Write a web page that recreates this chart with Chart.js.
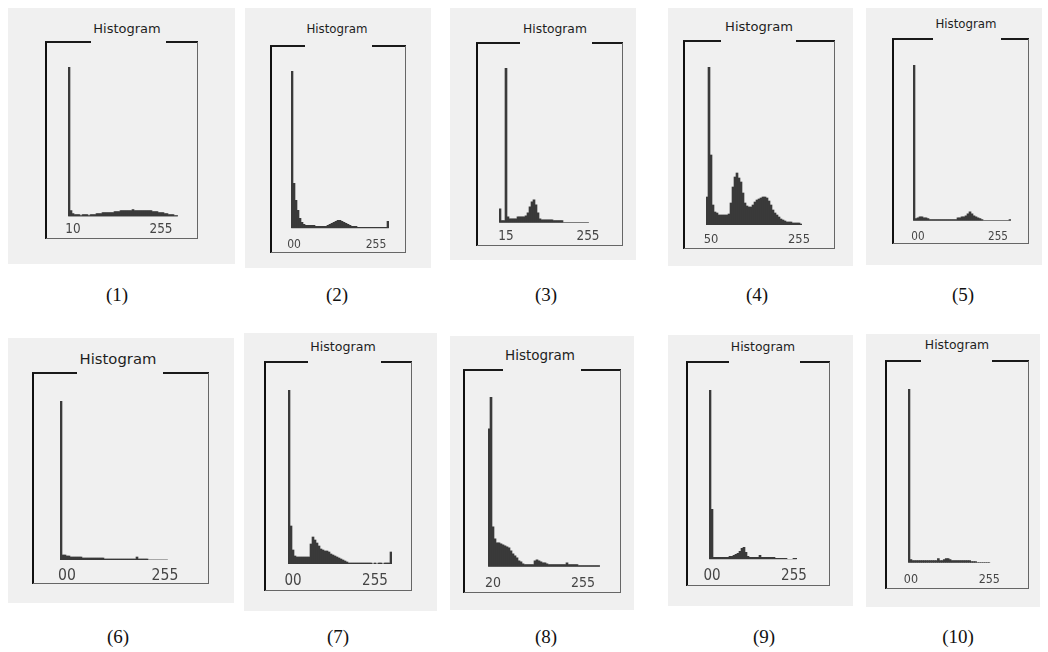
<!DOCTYPE html>
<html><head><meta charset="utf-8">
<script src="https://cdn.jsdelivr.net/npm/chart.js@4.4.1/dist/chart.umd.min.js"></script>
<style>
html,body{margin:0;padding:0;background:#fff;}
body{width:1048px;height:652px;position:relative;overflow:hidden;}
.bg{position:absolute;background:#f0f0f0;}
.ln{position:absolute;}
.ttl{position:absolute;text-align:center;font-family:"DejaVu Sans",sans-serif;color:#1e1e1e;white-space:nowrap;width:200px;}
.cap{position:absolute;text-align:center;font-family:"Liberation Serif","Times New Roman",serif;font-size:19px;color:#111;width:60px;line-height:22px;}
canvas{position:absolute;}
</style></head><body>
<script>
// ---- data: histogram bin counts (relative), one bin = one drawn column ----
const hist1 = [150,6,3,2,2,2,1,2,2,2,1,2,2,2,3,3,3,4,4,4,4,4,4,5,5,5,6,6,6,6,6,6,7,6,6,6,6,6,6,6,6,6,5,5,5,4,4,4,3,3,2,2,2,1,1];
const hist2 = [157,45,28,18,10,6,4,3,3,3,3,3,2,2,2,2,2,2,3,4,5,6,7,8,8,7,6,5,4,3,2,2,2,1,1,1,1,1,1,1,1,1,1,1,1,1,1,1,7];
const hist3 = [14,2,2,155,6,4,4,4,4,6,6,6,6,7,10,16,21,23,18,10,4,3,3,3,3,3,3,2,2,2,2,2,0,0,0,0,0,0,0,0,0,0,0,0,0];
const hist4 = [28,158,70,20,13,12,10,10,10,10,10,11,22,38,48,52,47,43,32,22,19,18,18,20,23,25,26,27,28,28,27,24,20,15,12,10,8,6,5,4,3,3,3,2,2,2,2,1];
const hist5 = [156,2,3,4,4,3,3,2,1,1,1,1,1,1,1,1,1,1,1,1,1,1,3,3,4,4,5,7,9,7,5,4,3,2,1,0,0,0,0,0,0,0,0,0,0,0,0,0,1];
const hist6 = [159,5,5,4,4,3,3,3,3,3,3,2,2,2,2,2,2,2,2,2,2,2,1,1,1,1,1,1,1,1,1,1,1,1,1,1,1,1,3,1,1,1,1,1,0,0,0,0,0,0,0,0,0,0];
const hist7 = [174,38,14,8,7,7,7,7,7,7,7,20,27,24,21,18,15,14,13,13,12,10,9,8,7,6,5,4,3,2,1,1,1,1,1,1,1,1,1,1,1,1,0,1,0,1,1,0,1,1,1,12];
const hist8 = [138,170,40,28,24,24,23,22,21,20,19,16,13,11,9,6,5,3,2,2,2,2,2,6,7,6,5,4,4,3,2,2,2,2,2,2,2,2,2,4,2,2,2,2,2,1,1,1,1,1,1,1,1,1,1,1];
const hist9 = [169,50,2,2,2,2,2,2,2,2,3,3,4,5,6,8,11,12,7,3,2,2,2,2,2,4,2,2,2,2,2,2,2,1,1,1,1,1,1,0,0,0,1,1];
const hist10 = [173,3,2,2,2,2,2,2,2,2,2,2,2,2,2,4,2,2,3,4,4,3,2,2,2,2,2,2,2,2,2,2,1,1,1,0,0,0,0,0,0,0];

// ---- tick labels: text and the bin under which it is printed ----
const tickText1 = ['10','255'];  const tickBins1 = [2,46];
const tickText2 = ['00','255'];  const tickBins2 = [1,42];
const tickText3 = ['15','255'];  const tickBins3 = [3,44];
const tickText4 = ['50','255'];  const tickBins4 = [2,46];
const tickText5 = ['00','255'];  const tickBins5 = [2,42];
const tickText6 = ['00','255'];  const tickBins6 = [3,52];
const tickText7 = ['00','255'];  const tickBins7 = [2,43];
const tickText8 = ['20','255'];  const tickBins8 = [2,47];
const tickText9 = ['00','255'];  const tickBins9 = [1,42];
const tickText10 = ['00','255']; const tickBins10 = [1,41];

const titleText = 'Histogram';
const captions = ['(1)','(2)','(3)','(4)','(5)','(6)','(7)','(8)','(9)','(10)'];

const hists = [hist1,hist2,hist3,hist4,hist5,hist6,hist7,hist8,hist9,hist10];
const tickTexts = [tickText1,tickText2,tickText3,tickText4,tickText5,tickText6,tickText7,tickText8,tickText9,tickText10];
const tickBinsAll = [tickBins1,tickBins2,tickBins3,tickBins4,tickBins5,tickBins6,tickBins7,tickBins8,tickBins9,tickBins10];

// ---- layout (page pixels) ----
// bg:[x,y,w,h]; fr:[L,T,R,B,gap1,gap2]; ti:[cx,cy,size]; hx: plot left, ht: plot top, hb: baseline, ly: label centre y, ls: label font size; cp:[cx,cy]
const layout = [
  {bg:[8,8,227,256],   fr:[46,42,197,238,91,166],    ti:[127,28,13],   hx:68,  ht:67,  hb:216.5, ly:230, ls:13.4, cp:[117,295]},
  {bg:[245,8,186,260], fr:[271,46,405,252,305,372],  ti:[337,30,11.8], hx:291, ht:71,  hb:228.3, ly:245, ls:12.0, cp:[337,295]},
  {bg:[450,8,186,252], fr:[477,43,622,245,520,592],  ti:[555,29,12.3], hx:499, ht:68,  hb:222.7, ly:237, ls:13.4, cp:[546,295]},
  {bg:[668,8,185,258], fr:[684,41,834,248,721,796],  ti:[759,27,13.1], hx:706, ht:67,  hb:225,   ly:240, ls:12.8, cp:[757,295]},
  {bg:[866,8,176,257], fr:[893,39,1028,243,933,1001],ti:[966,25,11.8], hx:913, ht:65,  hb:220.7, ly:237, ls:11.6, cp:[963,295]},
  {bg:[8,338,226,265], fr:[33,373,208,583,77,163],   ti:[118,359,14.8],hx:60,  ht:401, hb:560,   ly:576, ls:15.6, cp:[118,637]},
  {bg:[244,333,193,278],fr:[265,362,411,590,308,381],ti:[343,347,12.6],hx:288, ht:390, hb:564,   ly:581, ls:15.0, cp:[338,637]},
  {bg:[450,336,184,274],fr:[464,370,620,592,503,581],ti:[540,355,13.5],hx:488, ht:397, hb:566.7, ly:583, ls:14.0, cp:[546,637]},
  {bg:[668,335,185,271],fr:[687,362,829,585,729,800],ti:[763,347,12.4],hx:709, ht:390, hb:559.3, ly:576, ls:15.0, cp:[764,637]},
  {bg:[866,334,174,273],fr:[886,361,1028,588,921,992],ti:[957,345,12.4],hx:908, ht:389, hb:562.7, ly:580, ls:12.4, cp:[958,637]}
];

const BIN = 2, PADL = 14, PADR = 18, PADT = 2;
const body = document.body;
function box(cls, x, y, w, h, color) {
  const d = document.createElement('div');
  d.className = cls;
  d.style.left = x + 'px'; d.style.top = y + 'px';
  d.style.width = w + 'px'; d.style.height = h + 'px';
  if (color) d.style.background = color;
  body.appendChild(d);
  return d;
}

layout.forEach((p, i) => {
  box('bg', p.bg[0], p.bg[1], p.bg[2], p.bg[3]);
  const [L, T, R, B, g1, g2] = p.fr;
  box('ln', L - 1, T - 1, g1 - L + 1, 2, '#1a1a1a');
  box('ln', g2, T - 1, R - g2 + 1, 2, '#1a1a1a');
  box('ln', L - 1, T, 2, B - T + 1, '#111');
  box('ln', R, T, 1, B - T + 1, '#666');
  box('ln', L, B, R - L + 1, 1, '#666');

  const t = document.createElement('div');
  t.className = 'ttl';
  t.textContent = titleText;
  t.style.fontSize = p.ti[2] + 'px';
  t.style.lineHeight = Math.round(p.ti[2] * 1.3) + 'px';
  t.style.left = (p.ti[0] - 100) + 'px';
  t.style.top = (p.ti[1] - p.ti[2] * 0.65) + 'px';
  body.appendChild(t);

  const c = document.createElement('div');
  c.className = 'cap';
  c.textContent = captions[i];
  c.style.left = (p.cp[0] - 30) + 'px';
  c.style.top = (p.cp[1] - 11) + 'px';
  body.appendChild(c);

  const hist = hists[i];
  const tb = tickBinsAll[i], tt = tickTexts[i];
  const labels = hist.map((_, k) => { const j = tb.indexOf(k); return j >= 0 ? tt[j] : ''; });
  const chartH = p.hb - p.ht;
  const lineH = p.ls * 1.2;
  const tickPad = Math.max(0, p.ly - p.hb - lineH / 2);
  const axisH = 2 * tickPad + lineH;
  const raw = PADT + chartH + axisH;
  const H = Math.ceil(raw);
  const padB = H - raw;
  const W = PADL + hist.length * BIN + PADR;

  const cv = document.createElement('canvas');
  cv.width = W; cv.height = H;
  cv.style.width = W + 'px'; cv.style.height = H + 'px';
  cv.style.left = (p.hx - PADL) + 'px';
  cv.style.top = (p.ht - PADT) + 'px';
  body.appendChild(cv);

  new Chart(cv, {
    type: 'bar',
    data: {
      labels: labels,
      datasets: [{
        data: hist,
        backgroundColor: '#3a3a3a',
        borderWidth: 0,
        barPercentage: 1,
        categoryPercentage: 1
      }]
    },
    options: {
      responsive: false,
      animation: false,
      events: [],
      layout: { padding: { left: PADL, right: PADR, top: PADT, bottom: padB } },
      plugins: { legend: { display: false }, tooltip: { enabled: false }, title: { display: false } },
      scales: {
        x: {
          grid: { display: false, drawTicks: false },
          border: { display: false },
          ticks: {
            autoSkip: false, maxRotation: 0, minRotation: 0,
            padding: tickPad, color: '#454545',
            font: { family: '"DejaVu Sans Condensed","DejaVu Sans",sans-serif', size: p.ls }
          }
        },
        y: { display: false, min: 0, max: Math.max(...hist) }
      }
    }
  });
});
</script>
</body></html>
